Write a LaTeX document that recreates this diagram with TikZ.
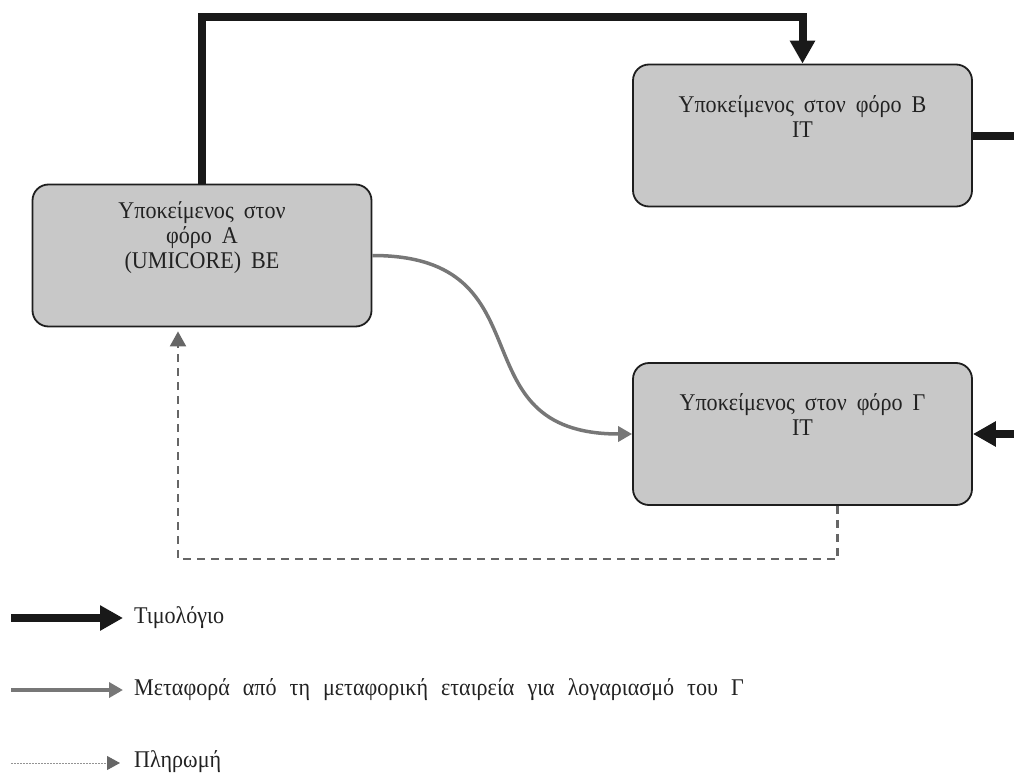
\documentclass[tikz,border=0pt]{standalone}
\usepackage{fontspec}
\setmainfont{Liberation Serif}[FakeStretch=0.92]
\usetikzlibrary{arrows.meta}
\definecolor{boxfill}{HTML}{C8C8C8}
\definecolor{boxline}{HTML}{1E1E1E}
\definecolor{flow}{HTML}{777777}
\definecolor{pay}{HTML}{666666}
\definecolor{txt}{HTML}{222222}
\newcommand\diagfont{\fontsize{24pt}{25pt}\selectfont\spaceskip=10pt plus 2pt minus 1pt\relax}
\newcommand\legfont{\fontsize{24pt}{25pt}\selectfont\spaceskip=13pt plus 2pt minus 1pt\relax}
\tikzset{
  party/.style={draw=boxline, line width=1.8pt, fill=boxfill, rounded corners=16pt,
    minimum width=339pt, minimum height=142pt, inner sep=0pt},
  lbl/.style={text=txt, align=center, font=\diagfont, inner sep=0pt},
  legtext/.style={text=txt, anchor=west, font=\legfont, inner sep=0pt},
  invoice/.style={draw=black!90, line width=8pt, -{Triangle[length=23pt,width=24pt]}},
  invline/.style={draw=black!90, line width=8pt},
  transport/.style={draw=flow, line width=3.5pt, -{Triangle[length=14pt,width=15pt]}},
  payment/.style={draw=pay, line width=2.2pt, dash pattern=on 8pt off 6pt, -{Triangle[length=15pt,width=16pt]}},
  paylegend/.style={draw=pay!70, line width=1pt, dash pattern=on 1.5pt off 1.5pt, -{Triangle[length=13pt,width=14pt,color=pay,fill=pay]}},
}
\begin{document}
\begin{tikzpicture}[x=1pt,y=-1pt]
\useasboundingbox (0,0) rectangle (1014,776);
% boxes
\node[party] (A) at (202,255.5) {};
\node[party] (B) at (802.5,135.5) {};
\node[party] (G) at (802.5,434) {};
\node[lbl] (Atext) at ([yshift=18pt]A.center) {Υποκείμενος στον\\φόρο Α\\(UMICORE) BE};
\node[lbl] (Btext) at ([yshift=19pt]B.center) {Υποκείμενος στον φόρο Β\\IT};
\node[lbl] (Gtext) at ([yshift=19pt]G.center) {Υποκείμενος στον φόρο Γ\\IT};
% helper coordinates
\coordinate (top) at (500,17);
\coordinate (bR) at (1030,136);
\coordinate (gR) at (1030,434);
\coordinate (d1) at (837.5,559);
\coordinate (d2) at (178,559);
% invoices
\draw[invoice] (A.north) -- (A.north |- top) -| (B.north);
\draw[invline] (B.east) -- (B.east -| bR);
\draw[invoice] (gR) -- (G.east);
% transport
\draw[transport] (A.east) .. controls +(180,0) and +(-180,0) .. (G.west);
% payment
\draw[payment, shorten >=4pt] (G.south -| d1) -- (d1) -- (d2) -- (A.south -| d2);
% legend
\node[legtext] (L1) at (134,618) {Τιμολόγιο};
\node[legtext] (L2) at (134,690) {Μεταφορά από τη μεταφορική εταιρεία για λογαριασμό του Γ};
\node[legtext] (L3) at (134,762) {Πληρωμή};
\coordinate (s1) at (11,618);
\coordinate (s2) at (11,690);
\coordinate (s3) at (11,763);
\draw[invoice, shorten >=11pt] (s1) -- (L1.west |- s1);
\draw[transport, line width=4pt, shorten >=11pt] (s2) -- (L2.west |- s2);
\draw[paylegend, shorten >=14pt] (s3) -- (L3.west |- s3);
\end{tikzpicture}
\end{document}
